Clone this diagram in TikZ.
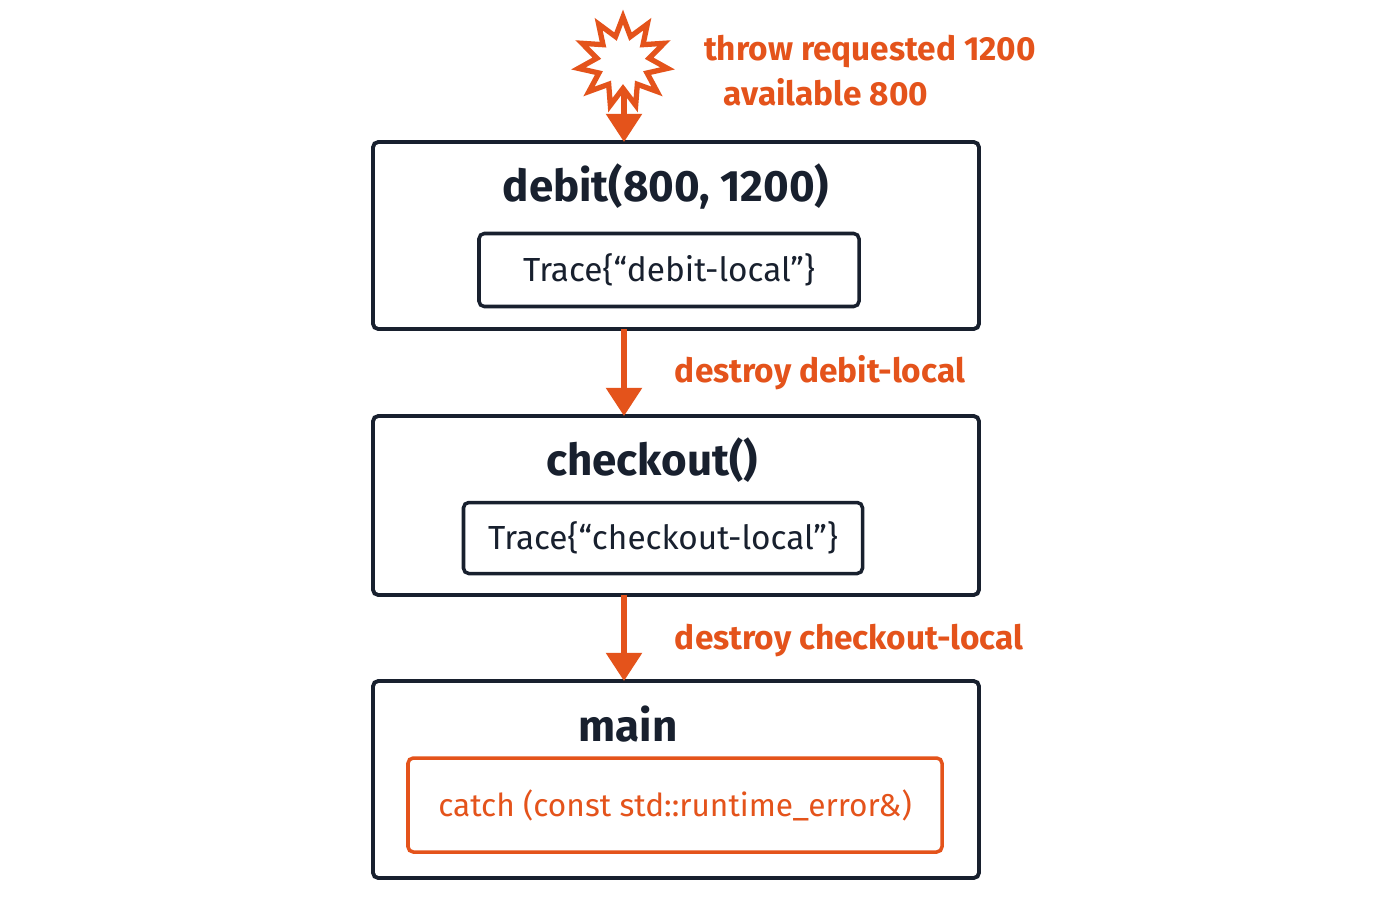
\documentclass[tikz,border=0pt]{standalone}
\usepackage{fontspec}
\setmainfont{Fira Sans}
\usetikzlibrary{shapes.geometric,arrows.meta}
\definecolor{throworange}{HTML}{E4531B}
\definecolor{framenavy}{HTML}{18202E}
\tikzset{
  frame/.style={draw=framenavy, line width=2.2pt, rounded corners=3pt},
  tracebox/.style={draw=framenavy, line width=2pt, rounded corners=3pt, font=\fontsize{19}{22}\selectfont, text=framenavy},
  catchbox/.style={draw=throworange, line width=2pt, rounded corners=3pt, font=\fontsize{18}{22}\selectfont, text=throworange},
  ftitle/.style={font=\fontsize{25}{30}\selectfont\bfseries, text=framenavy},
  unwind/.style={draw=throworange, line width=3pt, -{Triangle[length=16pt,width=20pt]}},
  unwindlabel/.style={font=\fontsize{19}{24}\selectfont\bfseries, text=throworange, anchor=west}
}
\begin{document}
\begin{tikzpicture}[x=0.02cm, y=-0.02cm]
\useasboundingbox[fill=white] (0,0) rectangle (1400,900);
%frames
\draw[frame] (373,142) rectangle (979,329);
\draw[frame] (373,416) rectangle (979,595);
\draw[frame] (373,681) rectangle (979,878);
\coordinate (debittop) at (624,142);
\coordinate (debitbot) at (624,329);
\coordinate (checktop) at (624,416);
\coordinate (checkbot) at (624,595);
\coordinate (maintop) at (624,681);
\node[ftitle] (debittitle) at (666,187) {debit(800, 1200)};
\node[ftitle] (checktitle) at (652,460) {checkout()};
\node[ftitle] (maintitle) at (628,724) {main};
\node[tracebox, minimum width=380*0.02cm, minimum height=73*0.02cm] (debittrace) at (669,270) {Trace\{“debit-local”\}};
\node[tracebox, minimum width=399*0.02cm, minimum height=71*0.02cm] (checktrace) at (663,538) {Trace\{“checkout-local”\}};
\node[catchbox, minimum width=534*0.02cm, minimum height=94*0.02cm] (catchblk) at (675,805) {catch (const std::runtime\_error\&)};
%throw
\node[star, star points=11, star point ratio=1.7, minimum size=90*0.02cm, draw=throworange, line width=3pt, fill=white] (burst) at (623,62) {};
\coordinate (burstbot) at (624,90);
\node[unwindlabel, anchor=center] (throwlabel) at (870,52) {throw requested 1200};
\node[unwindlabel, anchor=center] (availlabel) at (826,92) {available 800};
\draw[unwind] (burstbot) -- (debittop);
\draw[unwind] (debitbot) -- (checktop) node[unwindlabel, midway, xshift=0.85cm] (l1) {destroy debit-local};
\draw[unwind] (checkbot) -- (maintop) node[unwindlabel, pos=0.53, xshift=0.85cm] (l2) {destroy checkout-local};
\end{tikzpicture}
\end{document}
